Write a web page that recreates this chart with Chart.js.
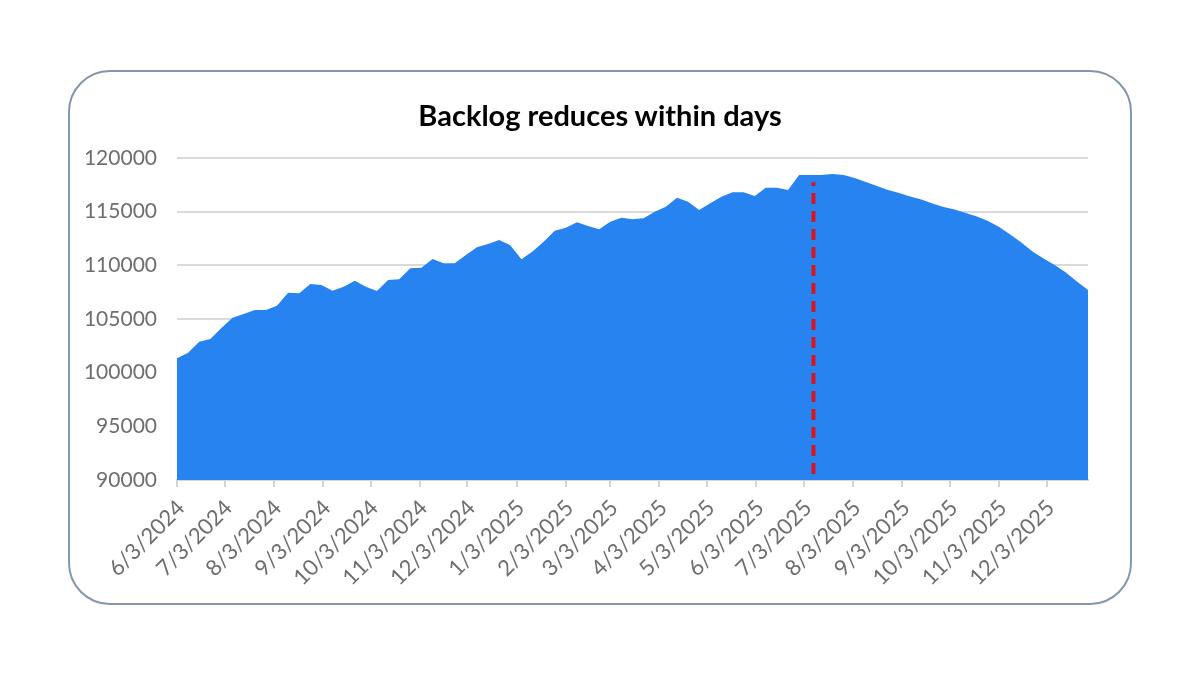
<!DOCTYPE html>
<html>
<head>
<meta charset="utf-8">
<script src="https://cdn.jsdelivr.net/npm/chart.js@4/dist/chart.umd.min.js"></script>
<style>
  body { margin: 0; background: #fff; }
  .card {
    position: absolute; left: 68px; top: 70px; width: 1064px; height: 535px;
    box-sizing: border-box; border: 2px solid #8495ae; border-radius: 42px;
  }
  .title {
    position: absolute; left: 0; top: 97px; width: 1200px; text-align: center;
    font: bold 29px/35px Lato, sans-serif; color: #000;
  }
  #backlog { position: absolute; left: 0; top: 0; }
</style>
</head>
<body>
<div class="card"></div>
<canvas id="backlog" width="1200" height="675"></canvas>
<div class="title">Backlog reduces within days</div>
<script>
// backlog, one value per week starting 6/3/2024
const backlog = [
  101340, 101860, 102890, 103140, 104160, 105120, 105470, 105840, 105840, 106240,
  107450, 107390, 108260, 108170, 107640, 108010, 108570, 108010, 107610, 108630,
  108700, 109720, 109780, 110590, 110190, 110190, 110960, 111680, 111990, 112360,
  111870, 110560, 111290, 112200, 113230, 113510, 114010, 113670, 113360, 114070,
  114440, 114290, 114380, 115000, 115460, 116300, 115930, 115160, 115780, 116400,
  116810, 116810, 116460, 117230, 117230, 117020, 118420, 118420, 118420, 118510,
  118420, 118140, 117760, 117390, 117020, 116740, 116410, 116130, 115760, 115440,
  115200, 114880, 114550, 114130, 113570, 112870, 112130, 111290, 110640, 110030,
  109330, 108490, 107700
];

// month ticks: days since 6/3/2024
const monthDays = [0, 30, 61, 92, 122, 153, 183, 214, 245, 273, 304, 334, 365, 395, 426, 457, 487, 518, 548];
const monthLabels = ['6/3/2024', '7/3/2024', '8/3/2024', '9/3/2024', '10/3/2024', '11/3/2024', '12/3/2024',
  '1/3/2025', '2/3/2025', '3/3/2025', '4/3/2025', '5/3/2025', '6/3/2025', '7/3/2025', '8/3/2025',
  '9/3/2025', '10/3/2025', '11/3/2025', '12/3/2025'];

// red marker (day 401 = 7/9/2025)
const markerDay = 401;
const markerRange = [90550, 117750];

const weekDays = backlog.map((v, i) => i * 7);
const lastDay = weekDays[weekDays.length - 1];

const gray = '#6e6e6e';
const ctx = document.getElementById('backlog').getContext('2d');

const config = {
  type: 'line',
  data: {
    datasets: [
      {
        data: markerRange.map(y => ({ x: markerDay, y })),
        borderColor: '#dc1420',
        borderWidth: 4,
        borderDash: [11, 7],
        pointRadius: 0,
        fill: false,
        order: 0
      },
      {
        data: backlog.map((y, i) => ({ x: weekDays[i], y })),
        backgroundColor: '#2783f0',
        borderWidth: 0,
        pointRadius: 0,
        tension: 0,
        fill: 'start',
        order: 1
      }
    ]
  },
  options: {
    responsive: false,
    animation: false,
    layout: { padding: { left: 60, right: 112, top: 158, bottom: 0 } },
    plugins: {
      legend: { display: false },
      tooltip: { enabled: false }
    },
    scales: {
      x: {
        type: 'linear',
        min: 0,
        max: lastDay,
        afterBuildTicks: scale => { scale.ticks = monthDays.map(v => ({ value: v })); },
        afterFit: scale => { scale.height = 195; },
        grid: { drawOnChartArea: false, drawTicks: true, tickLength: 7, color: '#d4d4d4', lineWidth: 2 },
        border: { color: '#d4d4d4', width: 2 },
        ticks: {
          autoSkip: false,
          minRotation: 45,
          maxRotation: 45,
          padding: 8,
          labelOffset: 4,
          color: gray,
          font: { family: 'Lato', size: 22 },
          callback: (v, i) => monthLabels[i]
        }
      },
      y: {
        min: 90000,
        max: 120000,
        afterFit: scale => { scale.width = 117; },
        grid: { color: '#d9d9d9', lineWidth: 2, drawTicks: false },
        border: { display: false },
        ticks: {
          stepSize: 5000,
          padding: 20,
          color: gray,
          font: { family: 'Lato', size: 21 },
          callback: v => v
        }
      }
    }
  }
};

new Chart(ctx, config);
</script>
</body>
</html>
